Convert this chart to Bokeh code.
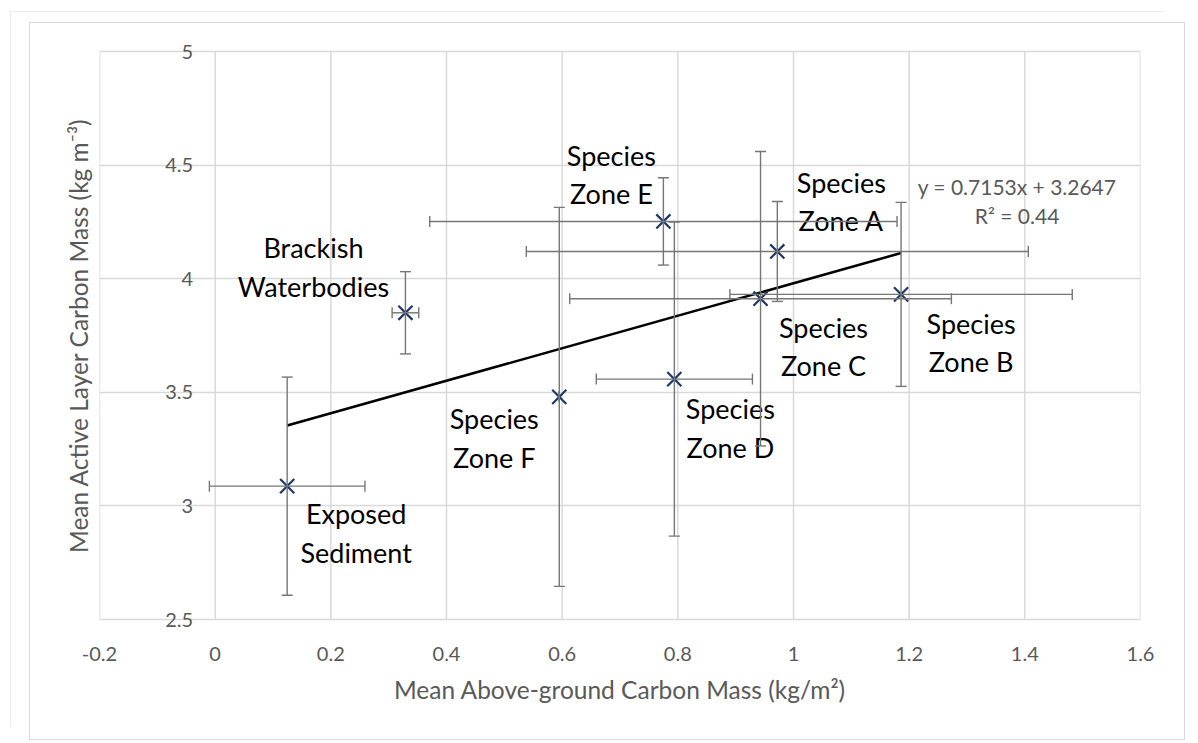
from bokeh.plotting import figure
from bokeh.models import (ColumnDataSource, Range1d, FixedTicker, Whisker,
                          TeeHead)
from bokeh.core.properties import value
from bokeh.embed import file_html
from bokeh.resources import INLINE

# ---------------- data ----------------
zone_labels = ["Exposed\nSediment", "Brackish\nWaterbodies", "Species\nZone F",
               "Species\nZone D", "Species\nZone E", "Species\nZone C",
               "Species\nZone A", "Species\nZone B"]
above_carbon = [0.1245, 0.329, 0.595, 0.794, 0.775, 0.943, 0.972, 1.186]
active_carbon = [3.087, 3.850, 3.480, 3.558, 4.252, 3.912, 4.120, 3.931]
above_carbon_err = [0.1345, 0.023, 0.0, 0.135, 0.404, 0.330, 0.434, 0.296]
active_carbon_err = [0.480, 0.181, 0.834, 0.691, 0.192, 0.648, 0.220, 0.405]

trend_slope = 0.7153
trend_intercept = 3.2647
trend_r2 = 0.44

x_ticks = [-0.2, 0.0, 0.2, 0.4, 0.6, 0.8, 1.0, 1.2, 1.4, 1.6]
x_tick_labels = ["-0.2", "0", "0.2", "0.4", "0.6", "0.8", "1", "1.2", "1.4", "1.6"]
y_ticks = [2.5, 3.0, 3.5, 4.0, 4.5, 5.0]
y_tick_labels = ["2.5", "3", "3.5", "4", "4.5", "5"]

x_title = "Mean Above-ground Carbon Mass (kg/m\u00b2)"
y_title = "Mean Active Layer Carbon Mass (kg m\u207b\u00b3)"

# label placement (screen px offsets, style only)
label_dx = [69, -92, -65, 56, -52, 63, 64, 70]
label_dy = [47, -46, 41, 49, -47, 48, -50, 48]

FONT = "Lato"
GRID = "#d9d9d9"
GREY_TXT = "#595959"
X_MIN, X_MAX = -0.2, 1.6
Y_MIN, Y_MAX = 2.5, 5.0
PLOT_H = 568            # pixel height of the 2.5..5 plot area
PAD_PX = 14             # room so the end tick numbers are not cut
Y_AXIS_CROSS = 0.0      # vertical axis crosses at x = 0 (as in the original)
Y_LABEL_GAP_PX = 22

y_pad = PAD_PX * (Y_MAX - Y_MIN) / PLOT_H

src = ColumnDataSource(dict(
    x=above_carbon, y=active_carbon, name=zone_labels,
    xl=[a - e for a, e in zip(above_carbon, above_carbon_err)],
    xu=[a + e for a, e in zip(above_carbon, above_carbon_err)],
    yl=[a - e for a, e in zip(active_carbon, active_carbon_err)],
    yu=[a + e for a, e in zip(active_carbon, active_carbon_err)],
    dx=label_dx, dy=label_dy,
))

p = figure(width=1154, height=716, output_backend="svg", toolbar_location=None,
           x_range=Range1d(X_MIN, X_MAX),
           y_range=Range1d(Y_MIN - y_pad, Y_MAX + y_pad),
           min_border_left=69, min_border_right=44,
           min_border_top=28 - PAD_PX, min_border_bottom=120 - PAD_PX)
p.styles = {"position": "relative", "left": "30px", "top": "23px",
            "outline": "1px solid #d9d9d9",
            "box-shadow": "-19px -11px 0 0 #ffffff, -20px -12px 0 0 #ececec"}
p.outline_line_color = None
p.background_fill_color = "white"
p.border_fill_color = "white"

# grids: horizontal via Grid, vertical as segments limited to the plot area
p.xgrid.grid_line_color = None
p.ygrid.ticker = FixedTicker(ticks=y_ticks)
p.ygrid.grid_line_color = GRID
p.ygrid.grid_line_width = 1.5
p.segment(x0=x_ticks, y0=[Y_MIN] * len(x_ticks), x1=x_ticks,
          y1=[Y_MAX] * len(x_ticks), line_color=GRID, line_width=1.5)

# x axis
xa = p.xaxis[0]
xa.ticker = FixedTicker(ticks=x_ticks)
xa.major_label_overrides = {t: l for t, l in zip(x_ticks, x_tick_labels)}
xa.axis_line_color = None
xa.major_tick_line_color = None
xa.minor_tick_line_color = None
xa.major_tick_out = 0
xa.major_tick_in = 0
xa.major_label_standoff = 27 - PAD_PX
xa.major_label_text_font = FONT
xa.major_label_text_font_size = "20px"
xa.major_label_text_color = GREY_TXT
xa.axis_label = x_title
xa.axis_label_text_font = FONT
xa.axis_label_text_font_size = "24.5px"
xa.axis_label_text_font_style = "normal"
xa.axis_label_text_color = GREY_TXT
xa.axis_label_standoff = 11

# y axis title (no ticks; numbers are drawn at the x = 0 crossing below)
ya = p.yaxis[0]
ya.ticker = FixedTicker(ticks=[])
ya.axis_line_color = None
ya.major_tick_line_color = None
ya.minor_tick_line_color = None
ya.major_tick_out = 0
ya.major_tick_in = 0
ya.axis_label = y_title
ya.axis_label_text_font = FONT
ya.axis_label_text_font_size = "24.5px"
ya.axis_label_text_font_style = "normal"
ya.axis_label_text_color = GREY_TXT
ya.axis_label_standoff = 7

p.text(x=[Y_AXIS_CROSS] * len(y_ticks), y=y_ticks, text=y_tick_labels,
       x_offset=-Y_LABEL_GAP_PX, text_align="right", text_baseline="middle",
       text_font=value(FONT), text_font_size="20px", text_color=GREY_TXT)

# error bars
EB = "#767676"
EW = 1.4
def tee():
    return TeeHead(size=11, line_color=EB, line_width=EW)
vwh = Whisker(base="x", lower="yl", upper="yu", dimension="height", source=src,
              line_color=EB, line_width=EW, level="glyph",
              upper_head=tee(), lower_head=tee())
hwh = Whisker(base="y", lower="xl", upper="xu", dimension="width", source=src,
              line_color=EB, line_width=EW, level="glyph",
              upper_head=tee(), lower_head=tee())
p.add_layout(vwh)
p.add_layout(hwh)

# trendline over data range
tx = [min(above_carbon), max(above_carbon)]
ty = [trend_slope * v + trend_intercept for v in tx]
p.line(tx, ty, line_color="black", line_width=2.5)

# markers
p.scatter("x", "y", source=src, marker="x", size=20, line_width=2.2,
          line_color="#203864")

# data labels
p.text("x", "y", text="name", source=src, x_offset="dx", y_offset="dy",
       text_align="center", text_baseline="middle", text_font=value(FONT),
       text_font_size="27px", text_color="black", text_line_height=1.17)

# trendline equation
eq = "y = {:.4f}x + {:.4f}\nR\u00b2 = {:.2f}".format(trend_slope, trend_intercept, trend_r2)
p.text([tx[1]], [ty[1]], text=[eq], x_offset=116, y_offset=-52,
       text_align="center", text_baseline="middle", text_font=value(FONT),
       text_font_size="21px", text_color=GREY_TXT, text_line_height=1.13)

open("out.html", "w").write(file_html(p, INLINE))
